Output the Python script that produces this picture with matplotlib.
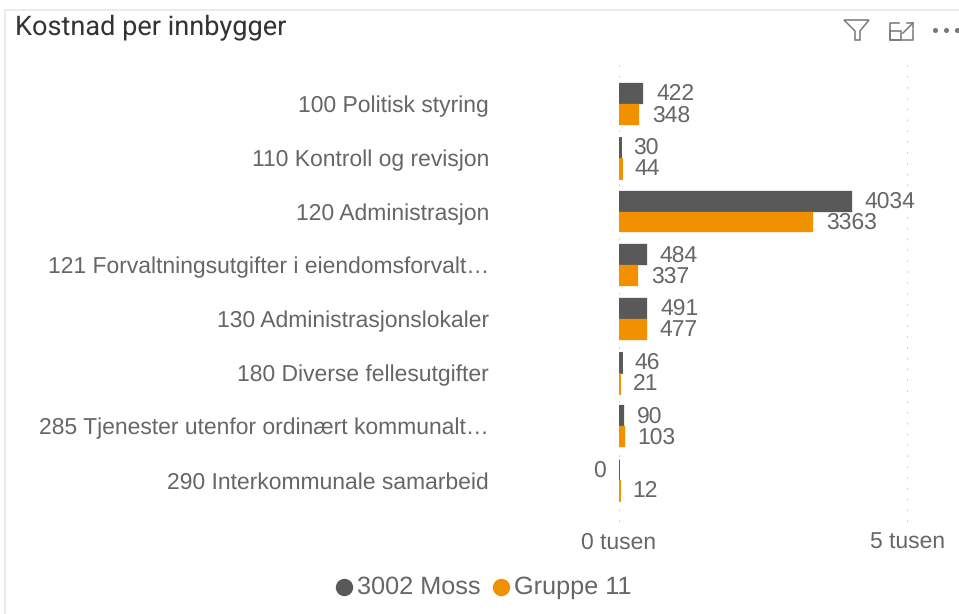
import numpy as np
import matplotlib
matplotlib.use("Agg")
import matplotlib.pyplot as plt
from matplotlib.lines import Line2D
from matplotlib.patches import Polygon, Rectangle

categories = [
    "100 Politisk styring",
    "110 Kontroll og revisjon",
    "120 Administrasjon",
    "121 Forvaltningsutgifter i eiendomsforvalt…",
    "130 Administrasjonslokaler",
    "180 Diverse fellesutgifter",
    "285 Tjenester utenfor ordinært kommunalt…",
    "290 Interkommunale samarbeid",
]
moss = [422, 30, 4034, 484, 491, 46, 90, 0]
gruppe = [348, 44, 3363, 337, 477, 21, 103, 12]
series_names = ["3002 Moss", "Gruppe 11"]
x_ticks = [0, 5000]
x_labels = ["0 tusen", "5 tusen"]

DARK = "#595959"
ORANGE = "#F29100"
TEXT = "#666666"
W, H = 959, 614

plt.rcParams["font.family"] = ["Liberation Sans", "DejaVu Sans"]
plt.rcParams["text.hinting"] = "no_hinting"


def fx(px):
    return px / W


def fy(py):
    return 1 - py / H


def edge_widths(values):
    # very small values still show as a hairline in the original
    return [0.7 if v < 50 else 0.2 for v in values]


fig = plt.figure(figsize=(W / 100, H / 100), dpi=100, facecolor="white")
ax = fig.add_axes([fx(619), fy(522), (908 - 619) / W, (522 - 63) / H])
ax.patch.set_alpha(0)

y = np.arange(len(categories))
h = 0.39
ax.barh(y - h / 2, moss, h, color=DARK, edgecolor=DARK, linewidth=edge_widths(moss), zorder=3)
ax.barh(y + h / 2, gruppe, h, color=ORANGE, edgecolor=ORANGE, linewidth=edge_widths(gruppe), zorder=3)

for i in range(len(categories)):
    for val, yy in ((moss[i], y[i] - h / 2), (gruppe[i], y[i] + h / 2)):
        off = 9.2 if val > 0 else -9.4
        ax.annotate(str(val), (val, yy), xytext=(off, -0.6), textcoords="offset points",
                    ha="left" if val > 0 else "right", va="center",
                    fontsize=16.5, color=TEXT, annotation_clip=False)

ax.set_xlim(0, 5000)
ax.set_ylim(7.78, -0.765)
ax.set_xticks(x_ticks)
ax.set_xticklabels(x_labels, fontsize=16.5, color=TEXT)
ax.set_yticks(y)
ax.set_yticklabels(categories, fontsize=16.5, color=TEXT, va="center_baseline")
ax.tick_params(axis="x", length=0, pad=7.5)
ax.tick_params(axis="y", length=0, pad=93.6)
for s in ax.spines.values():
    s.set_visible(False)
ax.grid(axis="x", color="#bbbbbb", linewidth=1.2, linestyle=(0, (1, 5.5)), zorder=0)
ax.set_axisbelow(True)

# panel border and title
fig.add_artist(Line2D([fx(5), fx(959)], [fy(10), fy(10)], color="#e8e8e8", lw=1.2))
fig.add_artist(Line2D([fx(5), fx(5)], [fy(10), fy(614)], color="#e8e8e8", lw=1.2))
fig.text(fx(15), fy(28), "Kostnad per innbygger", fontsize=19.5, color="#333333",
         family="Roboto", va="center", ha="left")

# legend
for cx, col in ((344, DARK), (501, ORANGE)):
    fig.add_artist(Line2D([fx(cx)], [fy(587)], marker="o", ms=11.5, mfc=col, mec=col, lw=0))
fig.text(fx(357), fy(587.5), series_names[0], fontsize=18.2, color=TEXT, va="center")
fig.text(fx(514), fy(587.5), series_names[1], fontsize=18.2, color=TEXT, va="center")

# header icons
ICON = "#777777"
funnel = [(844, 20), (869, 20), (860, 31), (860, 40), (855, 40), (855, 31)]
fig.add_artist(Polygon([(fx(a), fy(b)) for a, b in funnel], closed=True, fill=False,
                       ec=ICON, lw=1.1, transform=fig.transFigure))
fig.add_artist(Line2D([fx(890), fx(890), fx(913), fx(913)], [fy(30), fy(40), fy(40), fy(30)],
                      color=ICON, lw=1.1))
fig.add_artist(Line2D([fx(899), fx(890), fx(890)], [fy(23), fy(23), fy(30)], color=ICON, lw=1.1))
fig.add_artist(Rectangle((fx(890), fy(40)), 11 / W, 9 / H, fill=False, ec=ICON, lw=1.1,
                         transform=fig.transFigure))
fig.add_artist(Line2D([fx(903), fx(913)], [fy(33), fy(23)], color=ICON, lw=1.1))
fig.add_artist(Line2D([fx(907), fx(913), fx(913)], [fy(23), fy(23), fy(28)], color=ICON, lw=1.1))
for cx in (935, 946, 957):
    fig.add_artist(Line2D([fx(cx)], [fy(30)], marker="o", ms=2.6, mfc=ICON, mec=ICON, lw=0))

fig.savefig("out.png", dpi=100, facecolor="white")
